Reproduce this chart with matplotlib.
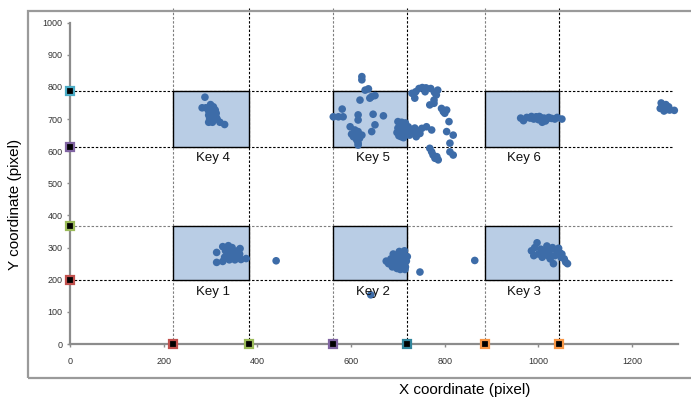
import numpy as np
import matplotlib
matplotlib.use("Agg")
import matplotlib.pyplot as plt
from matplotlib.patches import Rectangle

plt.rcParams['font.family'] = ['Liberation Sans', 'DejaVu Sans']

# key boundaries (pixel coordinates on screen)
col_edges = [220, 382, 562, 720, 886, 1044]
row_edges = [200, 366, 614, 786]
key_names = ['Key 1', 'Key 2', 'Key 3', 'Key 4', 'Key 5', 'Key 6']

# boundary markers on each axis, colours per edge
x_mark_colors = ['#c0504d', '#9bbb59', '#8064a2', '#31859c', '#f79646', '#f79646']
y_mark_colors = ['#c0504d', '#9bbb59', '#8064a2', '#4bacc6']

# touch positions
touch_x = [
    # key 1
    313, 313, 326, 326, 338, 332, 345, 358, 363, 338, 350, 362, 340, 352, 365, 376, 330, 346, 355, 440,
    # key 2
    675, 680, 685, 688, 692, 695, 700, 702, 705, 706, 710, 712, 714, 716, 718, 690, 698, 709, 703, 720,
    686, 715, 747, 642, 864,
    # key 3
    985, 992, 997, 1000, 1005, 1008, 1015, 1018, 1022, 1028, 1030, 1035, 1025, 1032, 1040, 1045, 1048,
    1050, 1055, 1058, 1062, 1012, 1020, 1043, 990,
    # key 4
    288, 282, 290, 298, 306, 296, 304, 312, 296, 304, 312, 298, 306, 314, 296, 304, 320, 330, 300, 310,
    # key 5 and around
    623, 623, 630, 637, 644, 651, 640, 619, 581, 615, 647, 669, 562, 573, 583, 615, 598, 651, 608, 615,
    601, 612, 623, 644, 612, 615, 615, 605, 618,
    700, 704, 708, 712, 716, 700, 705, 710, 715, 720, 698, 703, 709, 714, 719, 702, 707, 712, 717,
    722, 726, 731, 736, 741, 747, 725, 732, 739, 761, 772, 751,
    745, 752, 760, 770, 738, 758, 778, 785, 730, 736, 768, 777, 777, 782, 793, 797, 800, 804, 809,
    804, 818, 811, 818, 811, 768, 772, 775, 779, 786, 783,
    # key 6
    962, 968, 975, 982, 990, 995, 1000, 1005, 1008, 1012, 1018, 1022, 1028, 1035, 1040, 1050, 985,
    1002, 1015,
    # far right
    1262, 1265, 1270, 1268, 1275, 1280, 1272, 1290, 1260, 1278,
]
touch_y = [
    # key 1
    285, 254, 257, 303, 306, 290, 292, 290, 297, 276, 278, 280, 262, 262, 263, 266, 270, 300, 270, 259,
    # key 2
    258, 250, 265, 240, 255, 272, 245, 262, 232, 280, 250, 268, 290, 240, 258, 280, 235, 238, 288, 272,
    248, 232, 224, 153, 260,
    # key 3
    290, 300, 315, 280, 295, 270, 290, 305, 280, 295, 300, 275, 265, 250, 290, 285, 270,
    280, 265, 255, 250, 282, 275, 298, 275,
    # key 4
    768, 735, 735, 735, 738, 725, 722, 718, 712, 708, 705, 700, 698, 700, 690, 690, 690, 683, 745, 728,
    # key 5 and around
    832, 822, 790, 794, 770, 773, 765, 759, 731, 713, 715, 710, 707, 707, 707, 697, 676, 682, 666, 661,
    653, 650, 650, 661, 635, 625, 619, 645, 640,
    692, 685, 690, 682, 688, 672, 668, 675, 670, 665, 658, 655, 660, 652, 656, 648, 645, 642, 650,
    676, 668, 660, 672, 664, 655, 650, 660, 645, 676, 666, 671,
    795, 798, 797, 795, 785, 785, 783, 790, 780, 765, 744, 759, 749, 775, 733, 723, 718, 728, 692,
    661, 650, 625, 588, 598, 609, 598, 588, 578, 573, 583,
    # key 6
    703, 695, 705, 703, 700, 707, 698, 704, 690, 703, 700, 705, 702, 700, 705, 700, 708,
    708, 694,
    # far right
    750, 740, 735, 725, 730, 728, 745, 727, 733, 738,
]

fig = plt.figure(figsize=(6.91, 4.00), dpi=100)
ax = fig.add_axes([0.0844, 0.1078, 0.905, 0.8758])
ax.set_xlim(-25, 1310)
ax.set_ylim(-40, 1050)

# outer chart frame
fig.patches.append(Rectangle((0.0405, 0.055), 1.0, 0.9175, transform=fig.transFigure,
                             fill=False, edgecolor='#9a9a9a', linewidth=1.6, zorder=0))

dash = (0, (2.2, 1.6))
# vertical guides: left edges grey, right edges black
for i, x in enumerate(col_edges):
    c = '#7f7f7f' if i % 2 == 0 else 'black'
    ax.plot([x, x], [0, 1050], color=c, linestyle=dash, linewidth=0.8, zorder=1, clip_on=False)
for j, y in enumerate(row_edges):
    c = '#7f7f7f' if j == 1 else 'black'
    ax.plot([0, 1287], [y, y], color=c, linestyle=dash, linewidth=0.8, zorder=1)

# key rectangles and labels
k = 0
for r in range(2):
    y0, y1 = row_edges[2 * r], row_edges[2 * r + 1]
    for c in range(3):
        x0, x1 = col_edges[2 * c], col_edges[2 * c + 1]
        ax.add_patch(Rectangle((x0, y0), x1 - x0, y1 - y0, facecolor='#b9cde5',
                               edgecolor='black', linewidth=1.0, zorder=2))
        ax.text((x0 + x1) / 2 + 5, y0 - 18, key_names[k], ha='center', va='top',
                fontsize=9.5, color='#111111', zorder=4)
        k += 1

ax.scatter(touch_x, touch_y, s=30, color='#3d6ca8', edgecolors='none', zorder=3)

# boundary markers on the axes
for x, c in zip(col_edges, x_mark_colors):
    ax.plot(x, 0, marker='s', markersize=5.8, markerfacecolor='black', markeredgecolor=c,
            markeredgewidth=1.6, clip_on=False, zorder=6)
for y, c in zip(row_edges, y_mark_colors):
    ax.plot(0, y, marker='s', markersize=5.8, markerfacecolor='black', markeredgecolor=c,
            markeredgewidth=1.6, clip_on=False, zorder=6)

for s in ['top', 'right']:
    ax.spines[s].set_visible(False)
ax.spines['left'].set_position(('data', 0))
ax.spines['bottom'].set_position(('data', 0))
ax.spines['left'].set_bounds(0, 1000)
ax.spines['bottom'].set_bounds(0, 1298)
for s in ['left', 'bottom']:
    ax.spines[s].set_color('#8c8c8c')
    ax.spines[s].set_linewidth(1.6)
    ax.spines[s].set_zorder(5)

ax.set_xticks(np.arange(0, 1201, 200))
ax.set_yticks(np.arange(0, 1001, 100))
ax.tick_params(axis='both', colors='#8c8c8c', labelcolor='#333333', labelsize=6.5,
               length=2.5, width=1)
ax.tick_params(axis='x', pad=7)
ax.tick_params(axis='y', pad=3)
ax.patch.set_alpha(0)

fig.text(0.021, 0.49, 'Y coordinate (pixel)', rotation=90, ha='center', va='center', fontsize=11)
fig.text(0.672, 0.026, 'X coordinate (pixel)', ha='center', va='center', fontsize=11)

fig.savefig('out.png', dpi=100)
